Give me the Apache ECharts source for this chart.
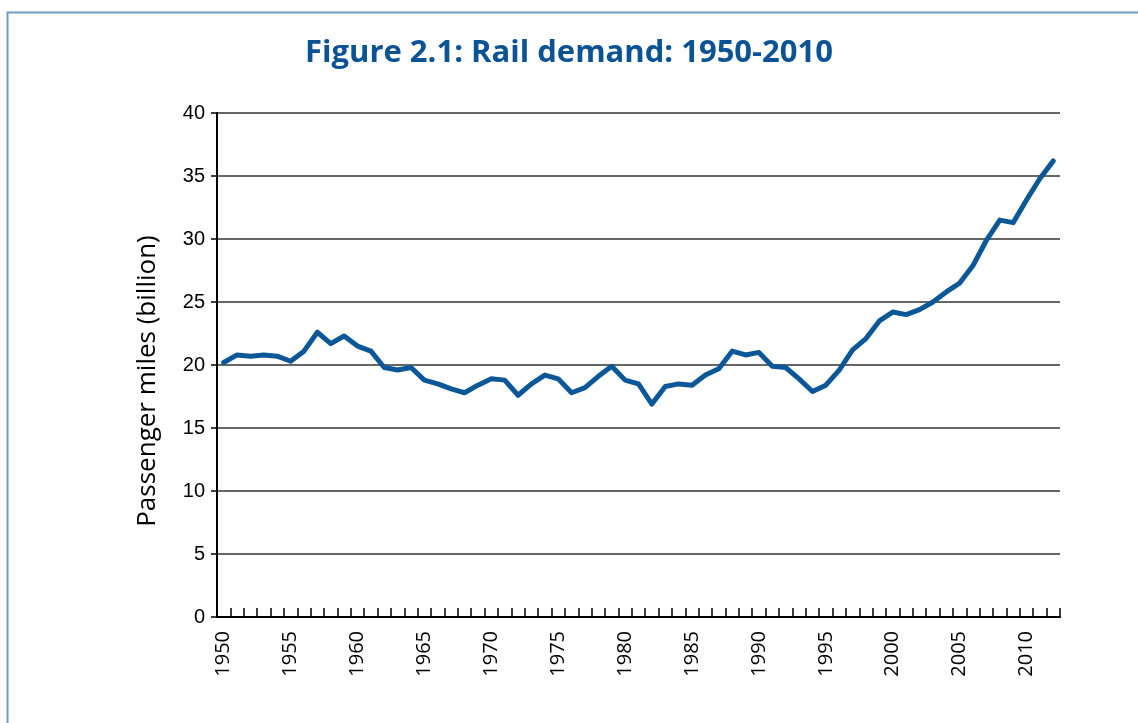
<!DOCTYPE html>
<html>
<head>
<meta charset="utf-8">
<script src="https://cdn.jsdelivr.net/npm/echarts@6/dist/echarts.min.js"></script>
<style>
    html, body { margin: 0; padding: 0; background: #fff; }
    #chart-con { width: 1138px; height: 723px; }
</style>
</head>
<body>
<div id="chart-con"></div>
<script>
// years 1950 - 2012
var years = [];
for (var y = 1950; y <= 2012; y++) years.push(String(y));

// passenger miles (billion)
var passengerMiles = [
    20.2, 20.8, 20.7, 20.8, 20.7, 20.3, 21.1, 22.6, 21.7, 22.3,
    21.5, 21.1, 19.8, 19.6, 19.8, 18.8, 18.5, 18.1, 17.8, 18.4,
    18.9, 18.8, 17.6, 18.5, 19.2, 18.9, 17.8, 18.2, 19.1, 19.9,
    18.8, 18.5, 16.9, 18.3, 18.5, 18.4, 19.2, 19.7, 21.1, 20.8,
    21.0, 19.9, 19.8, 18.9, 17.9, 18.4, 19.6, 21.2, 22.1, 23.5,
    24.2, 24.0, 24.4, 25.0, 25.8, 26.5, 27.9, 29.9, 31.5, 31.3,
    33.1, 34.8, 36.2
];
var yTicks = [0, 5, 10, 15, 20, 25, 30, 35, 40];

var dom = document.getElementById("chart-con");
var myChart = echarts.init(dom);

var option = {
    backgroundColor: '#fff',
    animation: false,
    title: {
        text: 'Figure 2.1: Rail demand: 1950-2010',
        left: 'center',
        top: 33,
        textStyle: {
            fontFamily: 'Open Sans',
            fontWeight: 'bold',
            fontSize: 31,
            color: '#0b5394'
        }
    },
    graphic: [{
        type: 'rect',
        shape: { x: 7.5, y: 12.5, width: 1200, height: 800 },
        style: { fill: 'none', stroke: '#6f9bc8', lineWidth: 2 },
        silent: true
    }],
    grid: {
        left: 217,
        top: 113,
        right: 78,
        bottom: 106
    },
    xAxis: {
        type: 'category',
        data: years,
        boundaryGap: true,
        axisLine: { show: true, lineStyle: { color: '#000', width: 2 } },
        axisTick: {
            show: true,
            inside: true,
            length: 9,
            interval: 0,
            lineStyle: { color: '#000', width: 1.5 }
        },
        axisLabel: {
            interval: 4,
            rotate: 90,
            margin: 14,
            fontFamily: 'Open Sans',
            fontSize: 20,
            color: '#000'
        }
    },
    yAxis: {
        type: 'value',
        min: yTicks[0],
        max: yTicks[yTicks.length - 1],
        interval: 5,
        name: 'Passenger miles (billion)',
        nameLocation: 'middle',
        nameGap: 56,
        nameTextStyle: {
            fontFamily: 'Open Sans',
            fontSize: 26,
            color: '#000',
            padding: [0, 32, 0, 0]
        },
        axisLine: { show: true, lineStyle: { color: '#000', width: 2 } },
        axisTick: { show: true, length: 6, lineStyle: { color: '#000', width: 1.5 } },
        axisLabel: {
            margin: 12,
            fontFamily: 'Liberation Sans',
            fontSize: 20,
            color: '#000'
        },
        splitLine: { lineStyle: { color: '#333', width: 1.5 } }
    },
    series: [{
        name: 'Passenger miles',
        type: 'line',
        data: passengerMiles,
        showSymbol: false,
        lineStyle: { color: '#0b5797', width: 5, join: 'round', cap: 'round' },
        itemStyle: { color: '#0b5797' }
    }]
};

if (option && typeof option === 'object') {
    myChart.setOption(option);
}
</script>
</body>
</html>
